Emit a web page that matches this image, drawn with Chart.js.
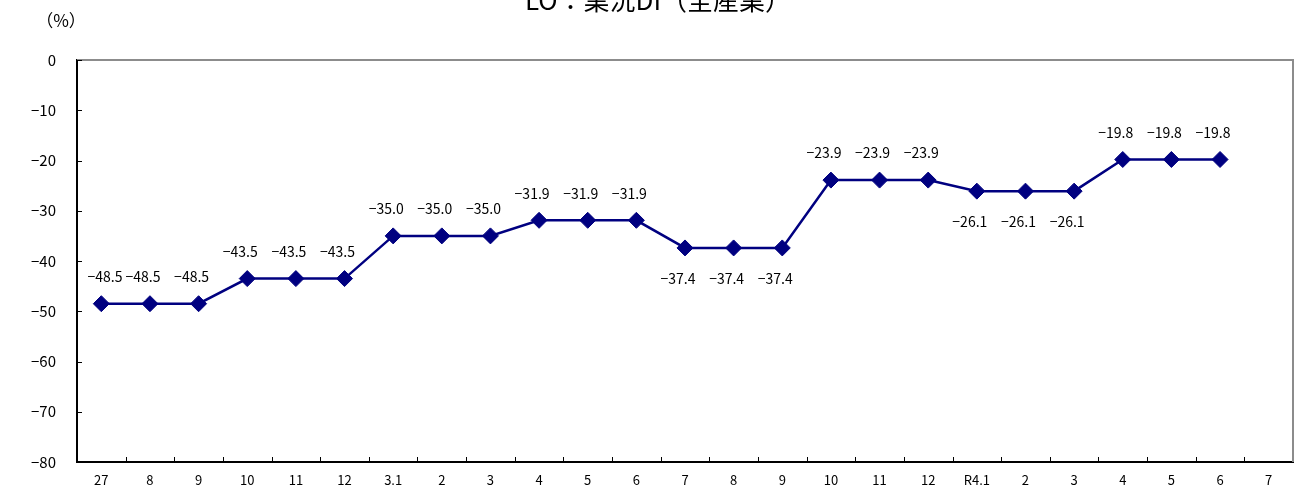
<!DOCTYPE html>
<html lang="ja">
<head>
<meta charset="UTF-8">
<title>業況DI</title>
<script src="https://cdn.jsdelivr.net/npm/chart.js@4"></script>
<style>
  html, body { margin: 0; padding: 0; background: #fff; overflow: hidden; }
  #wrap { width: 1302px; height: 485px; overflow: hidden; }
</style>
</head>
<body>
<div id="wrap"><canvas id="mychart" width="1302" height="492"></canvas></div>
<script>
// categories (month labels), values and where each value label sits
const months = ["27", "8", "9", "10", "11", "12", "3.1", "2", "3", "4", "5", "6",
                "7", "8", "9", "10", "11", "12", "R4.1", "2", "3", "4", "5", "6", "7"];
const diValues = [-48.5, -48.5, -48.5, -43.5, -43.5, -43.5, -35.0, -35.0, -35.0,
                  -31.9, -31.9, -31.9, -37.4, -37.4, -37.4, -23.9, -23.9, -23.9,
                  -26.1, -26.1, -26.1, -19.8, -19.8, -19.8, null];
const labelSide = ["up", "up", "up", "up", "up", "up", "up", "up", "up", "up", "up", "up",
                   "down", "down", "down", "up", "up", "up", "down", "down", "down", "up", "up", "up", null];
const yTicks = [0, -10, -20, -30, -40, -50, -60, -70, -80];

const titleText = "LO：業況DI（全産業）";
const unitText = "（%）";
const FONT = "'Noto Sans CJK JP', 'DejaVu Sans', sans-serif";
const minus = v => String(v).replace("-", "\u2212");

const ctx = document.getElementById("mychart").getContext("2d");

const extras = {
    id: "extras",
    afterDraw(chart) {
        const c = chart.ctx;
        const area = chart.chartArea;
        const xs = chart.scales.x, ys = chart.scales.y;
        c.save();

        // top and right frame in grey
        c.strokeStyle = "#8c8c8c";
        c.lineWidth = 2;
        c.beginPath();
        c.moveTo(area.left, area.top);
        c.lineTo(area.right, area.top);
        c.lineTo(area.right, area.bottom);
        c.stroke();

        // inward tick marks
        c.strokeStyle = "#000";
        c.lineWidth = 1;
        c.beginPath();
        const step = xs.getPixelForValue(1) - xs.getPixelForValue(0);
        for (let i = 1; i < months.length; i++) {
            const px = Math.round(xs.getPixelForValue(i) - step / 2) + 0.5;
            c.moveTo(px, area.bottom);
            c.lineTo(px, area.bottom - 5);
        }
        yTicks.forEach(v => {
            const py = Math.round(ys.getPixelForValue(v)) + 0.5;
            c.moveTo(area.left, py);
            c.lineTo(area.left + 5, py);
        });
        c.stroke();

        // month labels, placed by the category scale (they run off the bottom like the original)
        c.fillStyle = "#000";
        c.font = "13px " + FONT;
        c.textAlign = "center";
        c.textBaseline = "middle";
        months.forEach((m, i) => {
            c.fillText(m, xs.getPixelForValue(i), area.bottom + 18);
        });

        // value labels
        c.font = "14px " + FONT;
        const meta = chart.getDatasetMeta(0);
        meta.data.forEach((pt, i) => {
            const v = diValues[i];
            if (v === null) return;
            const dy = labelSide[i] === "down" ? 31 : -27;
            const lx = Math.max(pt.x - 7, area.left + 28);
            c.fillText(minus(v.toFixed(1)), lx, pt.y + dy);
        });

        // title and unit
        c.font = "26px " + FONT;
        c.textBaseline = "alphabetic";
        c.fillText(titleText, 658, 10);
        c.font = "17px " + FONT;
        c.fillText(unitText, 61, 27);
        c.restore();
    }
};

new Chart(ctx, {
    type: "line",
    data: {
        labels: months,
        datasets: [{
            data: diValues,
            borderColor: "#000080",
            backgroundColor: "#000080",
            borderWidth: 2.5,
            pointStyle: "rectRot",
            pointRadius: 8,
            pointBorderWidth: 1,
            pointBackgroundColor: "#000080",
            pointBorderColor: "#000080",
            tension: 0,
            spanGaps: false
        }]
    },
    options: {
        responsive: false,
        animation: false,
        layout: { padding: { top: 60, right: 7, bottom: 0, left: 0 } },
        plugins: {
            legend: { display: false },
            title: { display: false },
            tooltip: { enabled: false }
        },
        scales: {
            x: {
                offset: true,
                grid: { display: false, drawTicks: false, tickLength: 0 },
                border: { display: true, color: "#000", width: 2 },
                ticks: { display: false, autoSkip: false },
                afterFit(scale) { scale.height = 16; }
            },
            y: {
                min: -80,
                max: 0,
                grid: { display: false, drawTicks: false, tickLength: 0 },
                border: { display: true, color: "#000", width: 2 },
                ticks: {
                    stepSize: 10,
                    color: "#000",
                    font: { family: FONT, size: 15 },
                    padding: 21,
                    callback: v => minus(v)
                },
                afterFit(scale) { scale.width = 77; }
            }
        }
    },
    plugins: [extras]
});
</script>
</body>
</html>
